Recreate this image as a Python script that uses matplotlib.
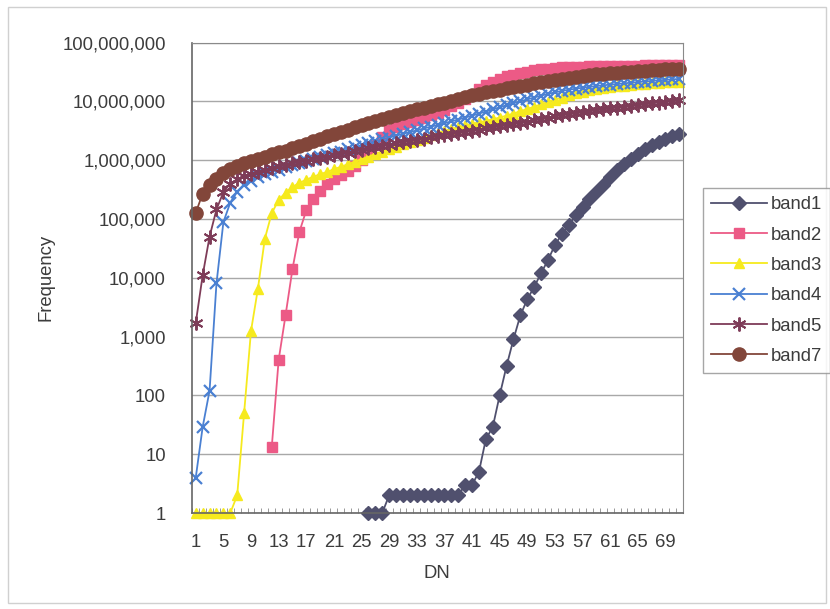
import numpy as np
import matplotlib.pyplot as plt
from matplotlib.patches import Rectangle
from matplotlib.ticker import NullLocator

plt.rcParams['font.family'] = ['Liberation Sans', 'DejaVu Sans']

# DN categories 1..71
dn = list(range(1, 72))

# Cumulative frequency per band (None = zero count, not drawn on log axis)
band1 = [None, None, None, None, None, None, None, None, None, None,
         None, None, None, None, None, None, None, None, None, None,
         None, None, None, None, None, 1, 1, 1, 2, 2,
         2, 2, 2, 2, 2, 2, 2, 2, 2, 3,
         3, 5, 18, 29, 100, 316, 900, 2300, 4300, 7000,
         12000, 20000, 36000, 55000, 78000, 115000, 160000, 220000, 290000, 380000,
         510000, 680000, 860000, 1050000, 1280000, 1550000, 1820000, 2050000, 2300000, 2550000,
         2800000]
band2 = [None, None, None, None, None, None, None, None, None, None,
         None, 13, 400, 2300, 14000, 60000, 140000, 220000, 300000, 390000,
         470000, 550000, 650000, 800000, 1000000, 1300000, 1800000, 2500000, 3200000, 3700000,
         4100000, 4500000, 4900000, 5300000, 5800000, 6400000, 7200000, 8200000, 9500000, 11000000,
         13000000, 16000000, 19000000, 21500000, 24000000, 26500000, 28500000, 30000000, 32000000, 33500000,
         35000000, 36000000, 37000000, 37700000, 38200000, 38600000, 39000000, 39300000, 39600000, 39800000,
         40000000, 40200000, 40400000, 40500000, 40600000, 40700000, 40800000, 40900000, 41000000, 41100000,
         41200000]
band3 = [1, 1, 1, 1, 1, 1, 2, 50, 1250, 6500,
         46000, 125000, 210000, 280000, 350000, 410000, 465000, 520000, 575000, 630000,
         700000, 770000, 850000, 940000, 1040000, 1150000, 1270000, 1400000, 1550000, 1700000,
         1850000, 2000000, 2200000, 2400000, 2650000, 2900000, 3150000, 3400000, 3650000, 3900000,
         4150000, 4400000, 4650000, 4950000, 5300000, 5700000, 6200000, 6800000, 7400000, 8100000,
         8900000, 9800000, 10700000, 11600000, 12600000, 13600000, 14600000, 15400000, 16100000, 16800000,
         17400000, 18000000, 18500000, 19000000, 19500000, 19900000, 20300000, 20700000, 21000000, 21300000,
         21600000]
band4 = [4, 29, 120, 8000, 88000, 190000, 290000, 380000, 450000, 510000,
         570000, 630000, 690000, 750000, 820000, 890000, 960000, 1030000, 1110000, 1200000,
         1300000, 1400000, 1520000, 1650000, 1800000, 1950000, 2100000, 2250000, 2420000, 2600000,
         2800000, 3000000, 3200000, 3450000, 3700000, 3950000, 4250000, 4550000, 4900000, 5300000,
         5700000, 6200000, 6700000, 7300000, 7900000, 8600000, 9300000, 10000000, 10800000, 11600000,
         12500000, 13400000, 14200000, 15000000, 15700000, 16400000, 17000000, 17600000, 18200000, 18700000,
         19200000, 19700000, 20200000, 20700000, 21200000, 21700000, 22200000, 22700000, 23200000, 23600000,
         24000000]
band5 = [1700, 11000, 50000, 145000, 285000, 400000, 470000, 530000, 580000, 630000,
         680000, 730000, 780000, 830000, 880000, 930000, 980000, 1030000, 1080000, 1130000,
         1200000, 1270000, 1340000, 1420000, 1500000, 1580000, 1660000, 1750000, 1840000, 1930000,
         2020000, 2120000, 2220000, 2320000, 2430000, 2540000, 2660000, 2780000, 2900000, 3030000,
         3160000, 3300000, 3450000, 3600000, 3760000, 3920000, 4100000, 4300000, 4500000, 4750000,
         5000000, 5300000, 5550000, 5800000, 6050000, 6300000, 6550000, 6800000, 7050000, 7300000,
         7550000, 7800000, 8050000, 8300000, 8600000, 8900000, 9200000, 9500000, 9800000, 10100000,
         10400000]
band7 = [127000, 270000, 380000, 470000, 600000, 720000, 800000, 880000, 960000, 1050000,
         1150000, 1250000, 1350000, 1450000, 1600000, 1750000, 1900000, 2100000, 2300000, 2550000,
         2800000, 3000000, 3300000, 3600000, 4000000, 4300000, 4600000, 5000000, 5400000, 5900000,
         6300000, 6800000, 7300000, 7800000, 8300000, 8900000, 9500000, 10200000, 11000000, 11800000,
         12600000, 13400000, 14200000, 15000000, 15800000, 16600000, 17400000, 18300000, 19200000, 20100000,
         21000000, 22000000, 23000000, 24000000, 25000000, 26000000, 27000000, 27800000, 28600000, 29300000,
         30000000, 30700000, 31400000, 32000000, 32600000, 33200000, 33800000, 34300000, 34800000, 35200000,
         35600000]

series = [
    ('band1', band1, '#50506e', 'D', 7, 1.0),
    ('band2', band2, '#ec5a86', 's', 7, 1.0),
    ('band3', band3, '#f6ea1e', '^', 7.5, 1.0),
    ('band4', band4, '#4a80d2', 'x', 8, 1.6),
    ('band5', band5, '#7e3c58', (6, 2, 0), 10, 1.4),
    ('band7', band7, '#82463a', 'o', 9.5, 1.0),
]

fig = plt.figure(figsize=(8.3, 6.09), dpi=100)
ax = fig.add_axes([192.3 / 830, 1 - 513 / 609, 490.4 / 830, 470.5 / 609])

text_col = '#3c3c3c'
for name, vals, col, mk, ms, mew in series:
    y = np.array([np.nan if v is None else v for v in vals], dtype=float)
    ax.plot(dn, y, color=col, lw=1.3, marker=mk, ms=ms, mfc=col, mec=col,
            mew=mew, label=name, clip_on=False)

ax.set_yscale('log')
ax.set_ylim(1, 1e8)
ax.set_xlim(0.5, 71.5)

yt = [10 ** k for k in range(9)]
ax.set_yticks(yt)
ax.set_yticklabels([f'{v:,}' for v in yt])
ax.yaxis.set_minor_locator(NullLocator())
ax.tick_params(axis='y', length=0, pad=19, labelsize=13.3, labelcolor=text_col)

ax.set_xticks(dn[::4])
ax.set_xticklabels([str(d) for d in dn[::4]])
ax.set_xticks(np.arange(0.5, 72, 1), minor=True)
ax.tick_params(axis='x', which='major', length=0, pad=15, labelsize=13.3, labelcolor=text_col)
ax.tick_params(axis='x', which='minor', direction='in', length=3.5, color='#888888')

ax.grid(axis='y', which='major', color='#a8a8a8', lw=1.0)
ax.set_axisbelow(True)
for side in ['top', 'right']:
    ax.spines[side].set_color('#8a8a8a')
for side in ['left', 'bottom']:
    ax.spines[side].set_color('#666666')
    ax.spines[side].set_linewidth(1.2)

fig.text(437 / 830, 1 - 574 / 609, 'DN', ha='center', va='center', fontsize=13.3, color=text_col)
fig.text(46 / 830, 1 - 277 / 609, 'Frequency', ha='center', va='center', rotation=90,
         fontsize=13.3, color=text_col)

leg = fig.legend(loc='upper left', bbox_to_anchor=(703 / 830, 1 - 188 / 609),
                 fontsize=13.3, frameon=True, fancybox=False, edgecolor='#909090',
                 handlelength=3.0, handletextpad=0.2, labelspacing=0.72,
                 borderpad=0.45, borderaxespad=0)
leg.get_frame().set_linewidth(1.0)
for t in leg.get_texts():
    t.set_color(text_col)

# light outer frame of the chart area
fig.patches.append(Rectangle((8 / 830, 6 / 609), 818 / 830, 596 / 609,
                             transform=fig.transFigure, fill=False,
                             ec='#d0d0d0', lw=1.0))

fig.savefig('out.png', dpi=100)
